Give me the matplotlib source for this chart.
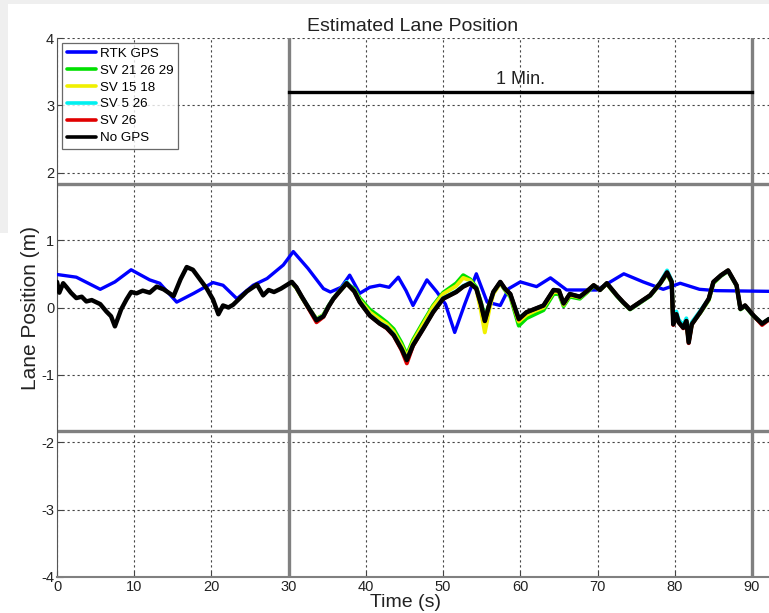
import matplotlib
matplotlib.use("Agg")
import matplotlib.pyplot as plt
from matplotlib.patches import Rectangle

plt.rcParams["axes.unicode_minus"] = False

# ---- data -------------------------------------------------------------
rtk_t = [0, 2.5, 5.6, 7.5, 9.6, 12.0, 13.3, 15.5, 17.7, 20.2, 21.5, 23.3, 25.4,
         27.2, 29.3, 30.6, 32.5, 34.5, 35.4, 36.8, 37.9, 39.2, 40.5, 41.8, 43.0,
         44.2, 45.2, 46.1, 47.9, 49.2, 50.3, 51.5, 52.8, 54.3, 55.7, 57.4, 58.5,
         60.0, 62.1, 63.9, 66.0, 69.9, 73.4, 75.9, 78.5, 80.7, 83.2, 85.4, 92.2]
rtk_y = [0.49, 0.45, 0.27, 0.38, 0.56, 0.41, 0.36, 0.08, 0.21, 0.37, 0.33, 0.13, 0.33,
         0.43, 0.63, 0.83, 0.58, 0.28, 0.23, 0.30, 0.48, 0.21, 0.30, 0.33, 0.30,
         0.45, 0.25, 0.03, 0.41, 0.23, 0.05, -0.37, 0.05, 0.50, 0.08, 0.03, 0.28,
         0.38, 0.31, 0.44, 0.26, 0.26, 0.50, 0.38, 0.27, 0.36, 0.27, 0.25, 0.24]

# No-GPS run before the one-minute window
nogps_pre_t = [0, 0.3, 0.8, 1.25, 1.8, 2.5, 3.2, 3.8, 4.5, 5.6, 6.4, 7.0, 7.5, 8.3,
               9.0, 9.6, 10.3, 11.1, 12.0, 12.9, 13.8, 15.1, 16.0, 16.8, 17.6, 18.5,
               19.4, 20.2, 20.9, 21.5, 22.2, 22.8, 23.7, 24.6, 25.9, 26.7, 27.4, 28.1,
               29.0, 29.7]
nogps_pre_y = [0.38, 0.22, 0.36, 0.30, 0.22, 0.14, 0.16, 0.09, 0.11, 0.05, -0.06, -0.13,
               -0.28, -0.03, 0.12, 0.23, 0.21, 0.25, 0.22, 0.31, 0.27, 0.17, 0.42, 0.60,
               0.56, 0.42, 0.28, 0.12, -0.10, 0.03, 0.00, 0.04, 0.14, 0.24, 0.34, 0.18,
               0.26, 0.23, 0.28, 0.33]

# common time base of the satellite-subset runs (from 30 s on)
sv_t = [30.4, 31.0, 31.7, 32.4, 33.0, 33.6, 34.5, 35.2, 35.8, 36.6, 37.5, 38.5,
        39.2, 40.5, 41.8, 42.7, 43.6, 44.6, 45.3, 46.1, 47.4, 48.7, 50.0, 51.7,
        52.6, 53.5, 54.3, 54.9, 55.4, 56.0, 56.5, 57.4, 58.0, 58.7, 59.8, 60.8,
        61.9, 63.0, 64.3, 65.0, 65.6, 66.4, 67.7, 68.6, 69.5, 70.3, 71.2, 72.5,
        73.3, 74.2, 75.5, 76.8, 78.1, 79.0, 79.6, 79.8, 80.2, 80.5, 81.1, 81.5,
        81.8, 82.2, 83.3, 84.4, 85.0, 86.0, 86.9, 88.0, 88.5, 89.1, 90.2, 91.3, 92.2]

nogps_y = [0.38, 0.30, 0.16, 0.03, -0.08, -0.19, -0.13, 0.02, 0.13, 0.24, 0.36, 0.24,
           0.08, -0.12, -0.24, -0.30, -0.41, -0.61, -0.78, -0.56, -0.32, -0.07, 0.13, 0.23,
           0.31, 0.36, 0.28, 0.05, -0.20, 0.05, 0.23, 0.38, 0.28, 0.20, -0.17, -0.07,
           -0.02, 0.03, 0.26, 0.25, 0.06, 0.20, 0.16, 0.24, 0.33, 0.26, 0.36, 0.18,
           0.08, -0.02, 0.08, 0.18, 0.36, 0.52, 0.38, -0.25, -0.10, -0.22, -0.30, -0.20,
           -0.52, -0.25, -0.07, 0.13, 0.38, 0.48, 0.55, 0.33, -0.02, 0.03, -0.12, -0.24, -0.17]

sv212629_y = [0.37, 0.29, 0.15, 0.02, -0.08, -0.17, -0.11, 0.03, 0.13, 0.24, 0.35, 0.28,
              0.14, -0.03, -0.14, -0.22, -0.32, -0.52, -0.70, -0.48, -0.22, 0.03, 0.22, 0.36,
              0.48, 0.42, 0.30, 0.08, -0.14, 0.06, 0.22, 0.36, 0.26, 0.16, -0.27, -0.16,
              -0.10, -0.04, 0.20, 0.20, 0.02, 0.16, 0.13, 0.22, 0.32, 0.26, 0.35, 0.17,
              0.07, -0.03, 0.07, 0.17, 0.35, 0.50, 0.36, -0.24, -0.10, -0.21, -0.29, -0.19,
              -0.50, -0.24, -0.08, 0.11, 0.36, 0.47, 0.54, 0.32, -0.03, 0.02, -0.13, -0.24, -0.18]

sv1518_y = [0.37, 0.29, 0.15, 0.03, -0.07, -0.17, -0.11, 0.03, 0.14, 0.25, 0.35, 0.26,
            0.11, -0.07, -0.18, -0.25, -0.36, -0.56, -0.73, -0.51, -0.25, 0.01, 0.20, 0.32,
            0.44, 0.40, 0.27, -0.05, -0.37, -0.02, 0.20, 0.36, 0.27, 0.18, -0.21, -0.11,
            -0.05, 0.00, 0.23, 0.23, 0.04, 0.18, 0.15, 0.23, 0.33, 0.26, 0.35, 0.18,
            0.08, -0.02, 0.08, 0.18, 0.36, 0.51, 0.37, -0.24, -0.10, -0.22, -0.30, -0.20,
            -0.51, -0.25, -0.07, 0.12, 0.37, 0.48, 0.55, 0.33, -0.02, 0.03, -0.12, -0.24, -0.17]

sv526_y = [0.38, 0.30, 0.16, 0.03, -0.08, -0.18, -0.12, 0.03, 0.14, 0.25, 0.38, 0.25,
           0.09, -0.11, -0.23, -0.29, -0.40, -0.60, -0.77, -0.55, -0.31, -0.06, 0.14, 0.24,
           0.32, 0.37, 0.28, 0.05, -0.19, 0.05, 0.23, 0.38, 0.28, 0.20, -0.16, -0.07,
           -0.02, 0.03, 0.26, 0.25, 0.06, 0.20, 0.16, 0.24, 0.33, 0.26, 0.36, 0.18,
           0.08, -0.02, 0.08, 0.18, 0.37, 0.55, 0.40, -0.20, -0.06, -0.18, -0.26, -0.16,
           -0.48, -0.22, -0.05, 0.13, 0.38, 0.48, 0.55, 0.33, -0.02, 0.03, -0.12, -0.24, -0.17]

sv26_y = [0.38, 0.30, 0.16, 0.02, -0.10, -0.22, -0.14, 0.02, 0.13, 0.24, 0.36, 0.24,
          0.08, -0.12, -0.24, -0.31, -0.42, -0.63, -0.83, -0.57, -0.32, -0.07, 0.13, 0.23,
          0.31, 0.36, 0.28, 0.05, -0.20, 0.05, 0.23, 0.38, 0.28, 0.20, -0.18, -0.07,
          -0.02, 0.03, 0.26, 0.25, 0.06, 0.20, 0.16, 0.24, 0.33, 0.26, 0.36, 0.18,
          0.08, -0.02, 0.08, 0.18, 0.36, 0.52, 0.38, -0.26, -0.10, -0.22, -0.31, -0.20,
          -0.53, -0.25, -0.07, 0.13, 0.38, 0.48, 0.55, 0.33, -0.02, 0.03, -0.12, -0.26, -0.18]

series_labels = ["RTK GPS", "SV 21 26 29", "SV 15 18", "SV 5 26", "SV 26", "No GPS"]
series_colors = ["#0000ff", "#00e000", "#f0f000", "#00f0f0", "#e00000", "#000000"]

lane_edge = 1.83          # lane half-width (m)
minute_marks = [30, 90]   # start/end of the one-minute window
minute_bar_y = 3.2
x_ticks = list(range(0, 100, 10))
y_ticks = list(range(-4, 5))

# ---- figure -----------------------------------------------------------
W, H = 769, 613
fig = plt.figure(figsize=(W / 100, H / 100), dpi=100, facecolor="white")
# thin grey window frame along the top/left
fig.patches.append(Rectangle((0, 1 - 4 / H), 1, 4 / H, transform=fig.transFigure,
                             facecolor="#efefef", edgecolor="none", zorder=0))
fig.patches.append(Rectangle((0, 0.62), 8 / W, 0.38, transform=fig.transFigure,
                             facecolor="#efefef", edgecolor="none", zorder=0))

ax = fig.add_axes([57 / W, (H - 577) / H, (W - 57) / W, (577 - 38) / H])

narrow = ["Liberation Sans Narrow", "Liberation Sans", "DejaVu Sans"]
regular = ["Liberation Sans", "DejaVu Sans"]

# reference lines: lane edges and the one-minute window
for yv in (lane_edge, -lane_edge):
    ax.axhline(yv, color="#808080", lw=2.4, zorder=2)
for xv in minute_marks:
    ax.axvline(xv, color="#808080", lw=2.4, zorder=2)
ax.plot(minute_marks, [minute_bar_y, minute_bar_y], color="black", lw=2.4, zorder=3)
ax.text(sum(minute_marks) / 2, minute_bar_y + 0.06, "1 Min.", ha="center", va="bottom",
        fontsize=13, family=regular, color="#222222")

nogps_full_t = nogps_pre_t + sv_t
nogps_full_y = nogps_pre_y + nogps_y
all_series = [(rtk_t, rtk_y), (sv_t, sv212629_y), (sv_t, sv1518_y),
              (sv_t, sv526_y), (sv_t, sv26_y), (nogps_full_t, nogps_full_y)]
widths = [2.4, 2.8, 2.8, 2.8, 2.8, 3.2]
handles = []
for (t, y), lab, col, lw in zip(all_series, series_labels, series_colors, widths):
    h, = ax.plot(t, y, color=col, lw=lw, label=lab, zorder=4,
                 solid_joinstyle="round", solid_capstyle="round")
    handles.append(h)

ax.set_xlim(0, 92.2)
ax.set_ylim(-4, 4)
ax.set_xticks(x_ticks)
ax.set_yticks(y_ticks)
ax.grid(True, color="#444444", lw=0.8, linestyle=(0, (2, 2.5)))
ax.set_axisbelow(True)
ax.tick_params(direction="in", length=4, color="#444444", labelsize=10.5,
               labelcolor="#222222", pad=2)
for lab in ax.get_xticklabels() + ax.get_yticklabels():
    lab.set_family(narrow)
for side in ("top", "right"):
    ax.spines[side].set_visible(False)
ax.spines["left"].set_color("#555555")
ax.spines["bottom"].set_color("#808080")
ax.spines["bottom"].set_linewidth(1.5)

ax.set_title("Estimated Lane Position", fontsize=14, family=regular, color="#222222",
             pad=5)
ax.set_xlabel("Time (s)", fontsize=14, family=narrow, color="#222222")
ax.xaxis.set_label_coords((406 - 57) / (W - 57), -(594 - 577) / (577 - 38))
ax.set_ylabel("Lane Position (m)", fontsize=15, family=regular, color="#222222",
              labelpad=1)

leg = ax.legend(handles=handles, loc="upper left", bbox_to_anchor=(0.007, 0.991),
                prop={"family": regular, "size": 9.6},
                frameon=True, fancybox=False, handlelength=2.2, handletextpad=0.3,
                labelspacing=0.34, borderpad=0.35, borderaxespad=0.0)
leg.get_frame().set_edgecolor("#444444")
leg.get_frame().set_linewidth(0.9)
for line in leg.get_lines():
    line.set_linewidth(2.6)

fig.savefig("out.png", dpi=100, facecolor=fig.get_facecolor())
